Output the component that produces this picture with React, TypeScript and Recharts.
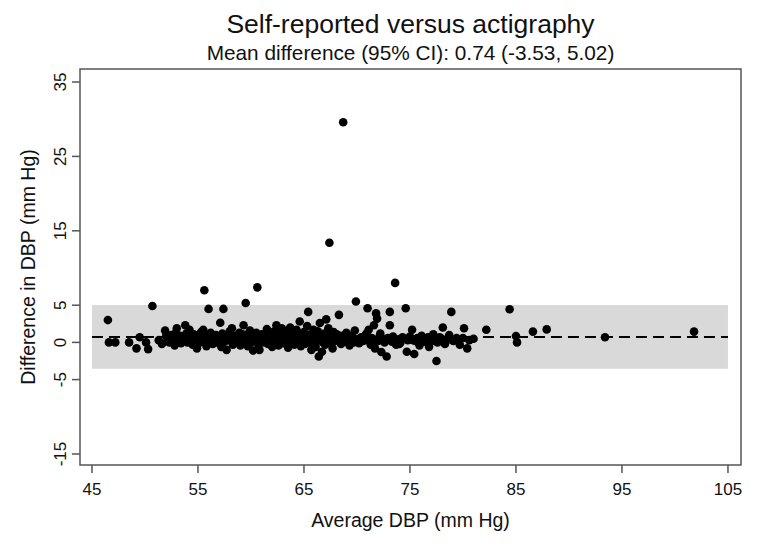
import React from 'react'
import { ScatterChart, Scatter, XAxis, YAxis, ReferenceArea, ReferenceLine } from 'recharts'

// Average DBP (x) and difference in DBP (y)
const avgDbp = [
  46.5, 46.6, 47.2, 48.5, 49.2, 49.5, 50.1, 50.3, 50.7,
  51.3, 51.6, 51.9, 52.1, 52.3, 52.5, 52.7, 52.8, 53.0, 53.1, 53.3, 53.4, 53.6, 53.8, 53.9,
  54.0, 54.2, 54.3, 54.5, 54.6, 54.8, 54.9, 55.0, 55.2, 55.3, 55.5, 55.6, 55.8, 55.9,
  55.6, 56.0, 57.4, 59.5, 60.6,
  56.1, 56.2, 56.4, 56.5, 56.7, 56.8, 57.0, 57.1, 57.2, 57.3, 57.5, 57.6, 57.7, 57.9, 58.0,
  58.2, 58.3, 58.4, 58.6, 58.7, 58.9, 59.0, 59.1, 59.3, 59.4, 59.5, 59.7, 59.8, 59.9, 60.0,
  60.2, 60.3, 60.4, 60.5, 60.7, 60.8, 60.9, 61.0, 61.2, 61.3, 61.5, 61.6, 61.7, 61.9, 62.0,
  62.1, 62.2, 62.4, 62.4, 62.5, 62.6, 62.7, 62.8, 62.9, 63.0, 63.1, 63.2, 63.3, 63.4, 63.5,
  63.6, 63.7, 63.8, 63.9, 64.0, 64.1, 64.2, 64.3, 64.4, 64.5, 64.6, 64.7, 64.8, 64.9, 65.0,
  65.1, 65.2, 65.3, 65.4, 65.5, 65.6, 65.7, 65.8, 65.9, 66.0, 66.1, 66.2, 66.3, 66.4, 66.5,
  66.6, 66.7, 66.8, 66.9, 67.0, 67.1, 67.2, 67.3, 67.4, 67.5, 67.6, 67.7, 67.8, 67.9, 68.0,
  68.1, 68.3, 68.4, 68.5, 68.7, 68.8, 68.9, 69.0, 69.2, 69.3, 69.5, 69.6, 69.8, 69.9, 70.0,
  70.2, 70.4, 70.6, 70.8, 71.0, 71.0, 71.1, 71.3, 71.4, 71.6, 71.7, 71.8, 71.9, 72.0,
  72.2, 72.3, 72.4, 72.6, 72.8, 72.9, 73.1, 73.1, 73.3, 73.5, 73.6, 73.7, 73.9, 74.1, 74.3,
  74.6, 74.7, 74.8, 75.0, 75.2, 75.4, 75.5, 75.7, 75.9, 76.1, 76.3, 76.5, 76.8, 77.0, 77.2,
  77.5, 77.6, 77.8, 78.1, 78.3, 78.5, 78.7, 78.9, 79.1, 79.4, 79.7, 80.1, 80.4, 80.6, 81.0, 82.2,
  84.4, 85.0, 85.1, 86.6, 87.9, 93.4, 101.8,
  // overlapping points filling the dense core of the cloud
  52.0, 52.4, 52.9, 53.5, 54.1, 54.7, 55.1, 55.4, 56.3, 56.9, 57.8, 58.1, 58.8, 59.2, 59.6,
  60.1, 60.6, 61.1, 61.4, 61.8, 62.3, 62.9, 63.3, 63.8, 64.2, 64.6, 65.0, 65.4, 65.9, 66.3,
  66.8, 67.2, 67.7, 68.2, 68.6, 69.1, 69.7, 70.5, 70.9, 71.5, 72.1, 72.7, 73.4, 74.0, 74.5,
  75.3, 76.0, 76.7, 77.3, 78.0, 79.0, 80.0,
]

const diffDbp = [
  3.0, 0.0, 0.0, 0.0, -0.8, 0.7, 0.0, -0.9, 4.9,
  0.3, -0.2, 1.6, 0.6, 0.0, 1.0, 0.4, -0.4, 1.9, 0.2, 0.9, -0.1, 0.5, 2.3, 1.2,
  0.0, 1.7, 0.6, -0.3, 1.1, 0.3, -0.8, 0.8, 0.0, 1.4, 1.7, 0.4, -0.5, 0.9,
  7.0, 4.5, 4.5, 5.3, 7.4,
  0.2, 1.3, -0.2, 0.6, 1.0, 0.0, 0.4, 2.65, -0.6, 1.2, 0.1, 0.7, -1.0, 0.3, 1.5,
  1.9, -0.3, 0.5, 0.9, 0.0, 1.3, -0.4, 0.6, 2.3, 0.2, 1.0, -0.5, 0.4, 1.6, 0.0,
  -1.1, 0.8, 0.3, 1.3, -0.3, -1.0, 0.5, 1.1, 0.0, 0.7, 1.8, -0.2, 0.4, 1.0, -0.6,
  0.3, 1.5, 2.3, 0.0, 0.8, -0.4, 1.2, 0.4, 1.9, -0.1, 0.6, 1.0, 0.2, 1.6, -0.7,
  0.5, 2.0, 0.9, 0.0, 1.3, -0.3, 0.7, 1.7, 0.1, 0.4, 2.8, -0.5, 1.0, 0.3, 1.4,
  -0.2, 0.6, 2.2, 4.1, 0.0, 1.1, -1.0, 0.5, 1.7, 0.2, -0.6, 0.9, 1.5, -1.9, 2.6,
  0.3, -1.25, 0.7, 1.2, -0.3, 3.1, 0.4, 1.9, 13.4, 0.0, 0.8, -0.8, 1.4, 0.2, 0.6,
  1.1, 3.7, 0.3, -0.2, 29.6, 0.8, 0.1, 1.3, 0.5, -0.4, 0.9, 0.2, 1.6, 5.5, 0.4,
  -0.1, 0.7, 0.2, 1.0, 4.6, 0.3, 1.7, -0.3, 0.6, 2.3, -0.8, 3.9, 3.2, 0.2,
  1.2, -1.3, 0.5, 0.0, -1.9, 0.6, 4.1, 2.3, 0.1, 0.5, 8.0, -0.3, 0.4, 0.0, 0.7,
  4.6, -1.25, 0.3, 0.8, 1.7, -1.55, 0.2, 0.6, -0.4, 0.9, 0.1, 0.5, -0.6, 0.3, 1.1,
  -2.5, 0.0, 0.7, 2.0, -0.2, 0.4, 1.0, 4.1, 0.2, 0.6, -0.3, 1.9, -0.8, 0.3, 0.5, 1.7,
  4.45, 0.85, 0.0, 1.45, 1.75, 0.7, 1.45,
  0.9, 0.3, 1.3, 0.7, 1.0, 0.5, 0.2, 0.9, 0.7, 0.5, 0.9, 0.3, 0.6, 1.1, 0.3,
  0.7, 0.1, 0.4, 0.9, 0.2, 0.6, 0.1, 0.8, 0.4, 0.1, 0.9, 0.5, 0.1, 0.8, 0.3,
  0.0, 1.0, 0.4, 0.5, 0.9, 0.6, 0.0, 0.5, 1.2, 0.1, 0.7, 0.3, 0.8, -0.2, 0.5,
  0.3, 0.4, 0.7, 0.2, 0.5, 0.3, 0.6,
]

const meanDiff = 0.74
const lowerLimit = -3.53
const upperLimit = 5.02
const bandStart = 45
const bandEnd = 105

const xTicks = [45, 55, 65, 75, 85, 95, 105]
const yTicks = [-15, -5, 0, 5, 15, 25, 35]
const xDomain = [43.87, 106.23]
const yDomain = [-16.48, 36.75]

const points = avgDbp.map((x, i) => ({ x, y: diffDbp[i] }))

const FONT = '"Liberation Sans", Arial, Helvetica, sans-serif'
const INK = '#111'
const FRAME = '#555'

const XTick = (props: any) => {
  const { x, payload } = props
  return (
    <text x={x} y={495} textAnchor="middle" fontSize={17} fill={INK} fontFamily={FONT}>
      {payload.value}
    </text>
  )
}

const YTick = (props: any) => {
  const { y, payload } = props
  return (
    <text
      x={66}
      y={y}
      transform={`rotate(-90, 66, ${y})`}
      textAnchor="middle"
      fontSize={17}
      fill={INK}
      fontFamily={FONT}
    >
      {payload.value}
    </text>
  )
}

const Dot = (props: any) => <circle cx={props.cx} cy={props.cy} r={4.3} fill="#000" />

export default function App() {
  return (
    <div style={{ position: 'absolute', left: 0, top: 0, width: 761, height: 544, background: '#fff' }}>
      <ScatterChart width={761} height={544} margin={{ top: 69, right: 20, bottom: 49, left: 50 }}>
        <XAxis
          type="number"
          dataKey="x"
          domain={xDomain}
          ticks={xTicks}
          allowDataOverflow
          height={30}
          axisLine={false}
          tickSize={8}
          tickLine={{ stroke: FRAME, strokeWidth: 1.5 }}
          tick={<XTick />}
        />
        <YAxis
          type="number"
          dataKey="y"
          domain={yDomain}
          ticks={yTicks}
          allowDataOverflow
          width={30}
          axisLine={false}
          tickSize={8}
          tickLine={{ stroke: FRAME, strokeWidth: 1.5 }}
          tick={<YTick />}
        />
        <ReferenceArea
          x1={bandStart}
          x2={bandEnd}
          y1={lowerLimit}
          y2={upperLimit}
          fill="#d9d9d9"
          fillOpacity={1}
          stroke="none"
        />
        <ReferenceLine
          segment={[{ x: bandStart, y: meanDiff }, { x: bandEnd, y: meanDiff }]}
          stroke="#000"
          strokeWidth={2}
          strokeDasharray="11 6"
        />
        <ReferenceArea
          x1={xDomain[0]}
          x2={xDomain[1]}
          y1={yDomain[0]}
          y2={yDomain[1]}
          fill="none"
          stroke={FRAME}
          strokeWidth={1.5}
        />
        <Scatter data={points} shape={<Dot />} isAnimationActive={false} />
      </ScatterChart>
      <svg
        width={761}
        height={544}
        style={{ position: 'absolute', left: 0, top: 0, pointerEvents: 'none' }}
        fontFamily={FONT}
        fill={INK}
      >
        <text x={410.5} y={33} textAnchor="middle" fontSize={26.5}>
          Self-reported versus actigraphy
        </text>
        <text x={410.5} y={60} textAnchor="middle" fontSize={20.8}>
          Mean difference (95% CI): 0.74 (-3.53, 5.02)
        </text>
        <text x={410.5} y={527} textAnchor="middle" fontSize={19.5}>
          Average DBP (mm Hg)
        </text>
        <text x={35} y={267} transform="rotate(-90, 35, 267)" textAnchor="middle" fontSize={19.5}>
          Difference in DBP (mm Hg)
        </text>
      </svg>
    </div>
  )
}
